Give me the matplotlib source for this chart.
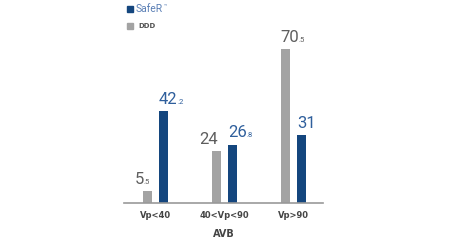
import matplotlib.pyplot as plt
import numpy as np
from matplotlib.patches import Rectangle

categories = ['Vp<40', '40<Vp<90', 'Vp>90']
ddd = [5.5, 24, 70.5]
safer = [42.2, 26.8, 31]
ddd_txt = [('5', '.5'), ('24', ''), ('70', '.5')]
safer_txt = [('42', '.2'), ('26', '.8'), ('31', '')]

gray = '#a3a3a3'
navy = '#14467e'
gray_txt = '#5e5e5e'
blue_txt = '#2f5f9c'

plt.rcParams['font.family'] = ['Roboto', 'DejaVu Sans']

fig = plt.figure(figsize=(4.5, 2.5), dpi=100)
ax = fig.add_axes([124/450, 47/250, 199/450, 174.4/250])

x = np.arange(len(categories))
w = 0.13
off = 0.115
ax.bar(x - off, ddd, w, color=gray)
ax.bar(x + off, safer, w, color=navy)

ax.set_xlim(-0.45, 2.42)
ax.set_ylim(0, 80)

# value labels: big integer part + small decimal part
def label(xl, y, parts, color, dx=0):
    t = ax.annotate(parts[0], (xl, y), xytext=(dx, 3), textcoords='offset points',
                    ha='left', va='bottom', fontsize=12, color=color)
    if parts[1]:
        ax.annotate(parts[1], xy=(1, 0), xycoords=t, xytext=(0, 1.5),
                    textcoords='offset points', ha='left', va='bottom',
                    fontsize=5.5, color=color)

ddd_dx = [-6, -9, -1]
for i in range(len(categories)):
    label(x[i] - off - w/2, ddd[i], ddd_txt[i], gray_txt, ddd_dx[i])
    label(x[i] + off - w/2, safer[i], safer_txt[i], blue_txt)

for s in ['top', 'right', 'left']:
    ax.spines[s].set_visible(False)
ax.spines['bottom'].set_color('#999999')
ax.spines['bottom'].set_linewidth(1.2)
ax.set_yticks([])
ax.set_xticks(x)
ax.set_xticklabels(categories, fontsize=6, fontweight='bold', color='#444444',
                   family='DejaVu Sans')
ax.tick_params(axis='x', length=0, pad=6)
ax.set_xlabel('AVB', fontsize=7, fontweight='bold', color='#444444', labelpad=6,
              family='DejaVu Sans')

# legend
fig.add_artist(Rectangle((127/450, 1 - 12/250), 6/450, 6/250, color=navy,
                         transform=fig.transFigure))
st = fig.text(136/450, 1 - 9.5/250, 'SafeR', fontsize=7.5, color='#5a7fb5', va='center')
fig.add_artist(plt.Annotation('™', xy=(1, 0.6), xycoords=st, xytext=(0.3, 0),
                              textcoords='offset points', fontsize=4, color='#5a7fb5',
                              va='bottom', ha='left'))
fig.add_artist(Rectangle((127/450, 1 - 29/250), 6/450, 6/250, color=gray,
                         transform=fig.transFigure))
fig.text(138/450, 1 - 26.5/250, 'DDD', fontsize=5, fontweight='bold', color='#555555',
         va='center', family='DejaVu Sans')

fig.savefig('out.png', dpi=100)
